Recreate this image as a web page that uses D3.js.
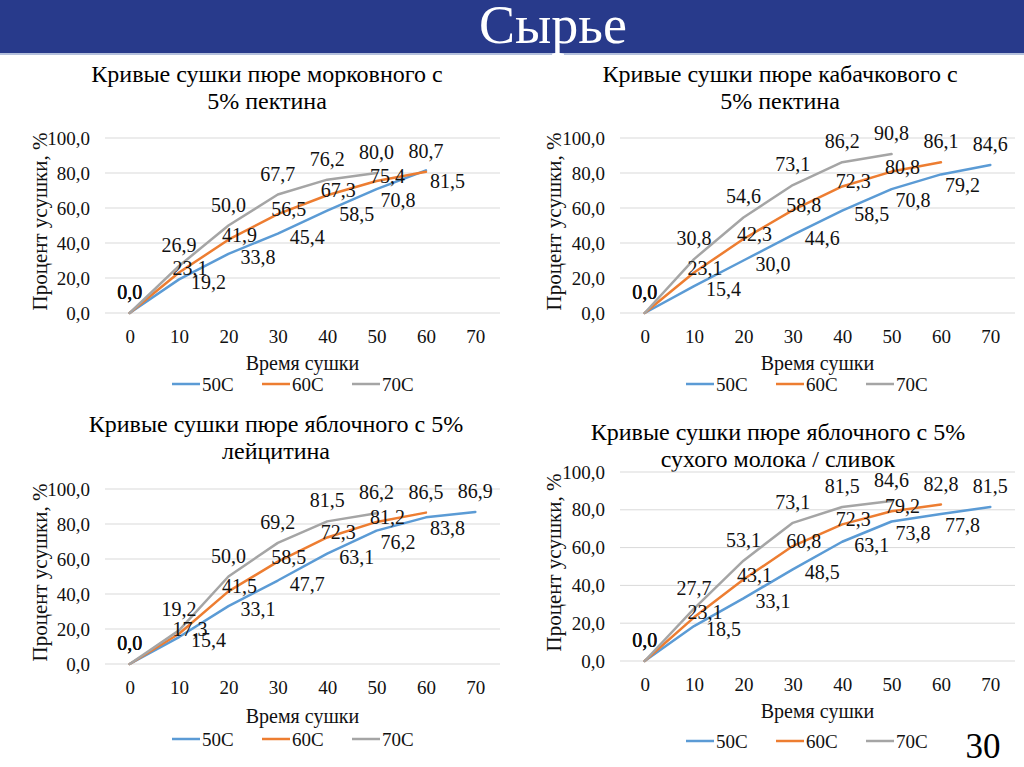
<!DOCTYPE html>
<html>
<head>
<meta charset="utf-8">
<script src="https://cdn.jsdelivr.net/npm/d3@7"></script>
<style>
  body { margin: 0; background: #fff; }
  svg { display: block; font-family: "Liberation Serif", "Times New Roman", serif; }
</style>
</head>
<body>
<svg id="slide" width="1024" height="767"></svg>
<script>
// --- data ---
const timeCats = [0, 10, 20, 30, 40, 50, 60, 70];
const seriesNames = ["50С", "60С", "70С"];
const yTicks = [0, 20, 40, 60, 80, 100];

// морковное + пектин
const carrot50 = [0, 19.2, 33.8, 45.4, 58.5, 70.8, 81.5];
const carrot60 = [0, 23.1, 41.9, 56.5, 67.3, 75.4, 80.7];
const carrot70 = [0, 26.9, 50.0, 67.7, 76.2, 80.0];

// кабачковое + пектин
const zucchini50 = [0, 15.4, 30.0, 44.6, 58.5, 70.8, 79.2, 84.6];
const zucchini60 = [0, 23.1, 42.3, 58.8, 72.3, 80.8, 86.1];
const zucchini70 = [0, 30.8, 54.6, 73.1, 86.2, 90.8];

// яблочное + лецитин
const appleLec50 = [0, 15.4, 33.1, 47.7, 63.1, 76.2, 83.8, 86.9];
const appleLec60 = [0, 17.3, 41.5, 58.5, 72.3, 81.2, 86.5];
const appleLec70 = [0, 19.2, 50.0, 69.2, 81.5, 86.2];

// яблочное + сухое молоко / сливки
const appleMilk50 = [0, 18.5, 33.1, 48.5, 63.1, 73.8, 77.8, 81.5];
const appleMilk60 = [0, 23.1, 43.1, 60.8, 72.3, 79.2, 82.8];
const appleMilk70 = [0, 27.7, 53.1, 73.1, 81.5, 84.6];

const titles = [
  ["Кривые сушки пюре морковного с", "5% пектина"],
  ["Кривые сушки пюре кабачкового с", "5% пектина"],
  ["Кривые сушки пюре яблочного с 5%", "лейцитина"],
  ["Кривые сушки пюре яблочного с 5%", "сухого молока / сливок"]
];
const xTitle = "Время сушки";
const yTitle = "Процент усушки, %";

const colors = ["#5b9bd5", "#ed7d31", "#a5a5a5"];
const fmt = v => d3.format(".1f")(v).replace(".", ",");

const svg = d3.select("#slide");

// header band
svg.append("rect").attr("x", 0).attr("y", 0).attr("width", 1024).attr("height", 53).attr("fill", "#283a8b");
svg.append("rect").attr("x", 0).attr("y", 53).attr("width", 1024).attr("height", 2).attr("fill", "#b4c0dc");
svg.append("text").attr("x", 553).attr("y", 43).attr("text-anchor", "middle")
  .attr("fill", "#fff").attr("font-size", 54).text("Сырье");
svg.append("text").attr("x", 983).attr("y", 758).attr("text-anchor", "middle")
  .attr("fill", "#000").attr("font-size", 35).text("30");

const panels = [
  { series: [carrot50, carrot60, carrot70], title: titles[0],
    x0: 105, x1: 500, top: 138, bottom: 313, titleX: 267, titleY: 82, yLabX: 40,
    xTitleY: 370, legendY: 384, legendX: 172 },
  { series: [zucchini50, zucchini60, zucchini70], title: titles[1],
    x0: 620, x1: 1015, top: 138, bottom: 313, titleX: 780, titleY: 82, yLabX: 554,
    xTitleY: 370, legendY: 384, legendX: 686 },
  { series: [appleLec50, appleLec60, appleLec70], title: titles[2],
    x0: 105, x1: 500, top: 489, bottom: 664, titleX: 276, titleY: 432, yLabX: 40,
    xTitleY: 723, legendY: 739, legendX: 172 },
  { series: [appleMilk50, appleMilk60, appleMilk70], title: titles[3],
    x0: 620, x1: 1015, top: 472, bottom: 661, titleX: 778, titleY: 440, yLabX: 554,
    xTitleY: 718, legendY: 741, legendX: 686 }
];

// where Excel put the labels: 50C to the right, 60C on the line, 70C above
function labelPos(s, j, n) {
  const lastCat = j === timeCats.length - 1;
  if (j === 0 || s === 2 || (s === 1 && j === n - 1) || (s === 0 && lastCat))
    return { dx: 0, dy: -14, anchor: "middle" };
  if (s === 1) return { dx: 11, dy: 2, anchor: "middle" };
  if (j >= 5) return { dx: 4, dy: 18, anchor: "start" };
  return { dx: 12, dy: 10, anchor: "start" };
}

panels.forEach(p => {
  const g = svg.append("g");
  const x = d3.scalePoint().domain(timeCats).range([p.x0, p.x1]).padding(0.5);
  const y = d3.scaleLinear().domain([0, 100]).range([p.bottom, p.top]);
  const cx = (p.x0 + p.x1) / 2;

  // title
  g.append("text").attr("x", p.titleX).attr("y", p.titleY).attr("text-anchor", "middle")
    .attr("font-size", 24).attr("fill", "#000")
    .selectAll("tspan").data(p.title).join("tspan")
    .attr("x", p.titleX).attr("dy", (d, i) => i ? 27 : 0).text(d => d);

  // grid
  g.selectAll(".grid").data(yTicks).join("line")
    .attr("x1", p.x0).attr("x2", p.x1)
    .attr("y1", d => y(d)).attr("y2", d => y(d))
    .attr("stroke", "#d9d9d9").attr("stroke-width", 1);

  // y axis labels
  const yAxis = d3.axisLeft(y).tickValues(yTicks).tickFormat(fmt).tickSize(0).tickPadding(15);
  const ya = g.append("g").attr("transform", `translate(${p.x0},0)`).call(yAxis)
    .attr("font-family", null).attr("font-size", null);
  ya.select(".domain").remove();
  ya.selectAll("text").attr("font-size", 19).attr("fill", "#111");

  // x axis labels
  const xAxis = d3.axisBottom(x).tickSize(0).tickPadding(17);
  const xa = g.append("g").attr("transform", `translate(0,${p.bottom})`).call(xAxis)
    .attr("font-family", null).attr("font-size", null);
  xa.select(".domain").remove();
  xa.selectAll("text").attr("font-size", 19).attr("fill", "#111");

  // axis titles
  g.append("text").attr("x", cx).attr("y", p.xTitleY).attr("text-anchor", "middle")
    .attr("font-size", 20).attr("fill", "#111").text(xTitle);
  g.append("text").attr("transform", `translate(${p.yLabX + 7},${(p.top + p.bottom) / 2 - 4}) rotate(-90)`)
    .attr("text-anchor", "middle").attr("font-size", 21).attr("fill", "#111").text(yTitle);

  // lines
  const line = d3.line().x((d, i) => x(timeCats[i])).y(d => y(d));
  p.series.forEach((vals, s) => {
    g.append("path").datum(vals).attr("d", line)
      .attr("fill", "none").attr("stroke", colors[s]).attr("stroke-width", 2.5)
      .attr("stroke-linejoin", "round").attr("stroke-linecap", "round");
  });

  // data labels
  p.series.forEach((vals, s) => {
    g.selectAll(".lbl" + s).data(vals).join("text")
      .attr("class", "lbl" + s)
      .each(function (d, j) {
        const lp = labelPos(s, j, vals.length);
        d3.select(this)
          .attr("x", x(timeCats[j]) + lp.dx)
          .attr("y", y(d) + lp.dy)
          .attr("text-anchor", lp.anchor);
      })
      .attr("font-size", 20).attr("fill", "#111")
      .text(d => fmt(d));
  });

  // legend
  const lg = g.append("g").attr("transform", `translate(${p.legendX},${p.legendY})`);
  seriesNames.forEach((name, s) => {
    const item = lg.append("g").attr("transform", `translate(${s * 90},0)`);
    item.append("line").attr("x1", 0).attr("x2", 28).attr("y1", 0).attr("y2", 0)
      .attr("stroke", colors[s]).attr("stroke-width", 2.5);
    item.append("text").attr("x", 30).attr("y", 6.5).attr("font-size", 19)
      .attr("fill", "#111").text(name);
  });
});
</script>
</body>
</html>
